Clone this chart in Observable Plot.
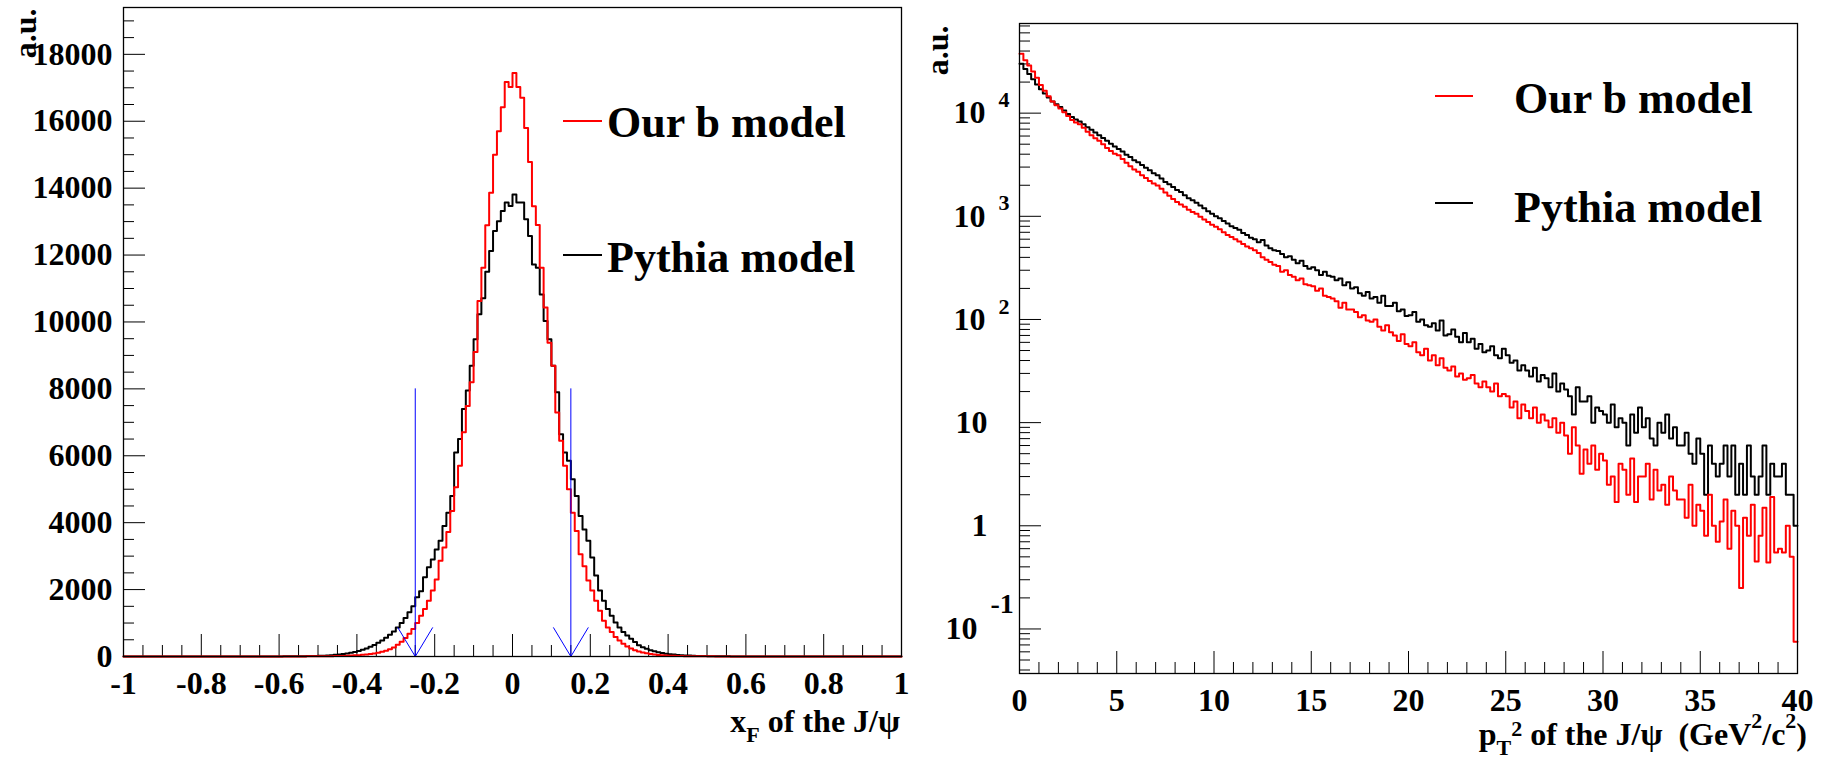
<!DOCTYPE html>
<html>
<head>
<meta charset="utf-8">
<script src="https://cdn.jsdelivr.net/npm/d3@7"></script>
<script src="https://cdn.jsdelivr.net/npm/@observablehq/plot@0.6"></script>
<style>
  html, body { margin: 0; padding: 0; background: #fff; }
  #wrap { position: relative; width: 1831px; height: 760px; overflow: hidden; background: #fff; }
  #left, #right { position: absolute; top: 0; }
  #left { left: 0; }
  #right { left: 915px; }
  svg text { white-space: pre; }
</style>
</head>
<body>
<div id="wrap"><div id="left"></div><div id="right"></div></div>
<script>
// ---------------- DATA ----------------
// Left panel: x_F histogram, bins of 0.01 from -0.60 to 0.60 (zero elsewhere in [-1, 1])
const xfRange = [-1, 1];
const xfBinStart = -0.6;
const xfBinWidth = 0.01;
const xfOurB = [
  1, 1, 2, 2, 2, 3, 3, 4, 4, 5,
  6, 7, 8, 10, 12, 15, 18, 23, 28, 34,
  40, 50, 62, 75, 90, 110, 140, 175, 220, 270,
  350, 440, 550, 680, 820, 1000, 1220, 1420, 1670, 1970,
  2300, 2860, 3260, 3720, 4350, 5060, 5700, 6700, 7490, 8200,
  9100, 10630, 11620, 12890, 13860, 15000, 15700, 16420, 17170, 17020,
  17440, 17020, 16700, 15800, 14780, 13460, 12900, 11620, 10430, 9380,
  8690, 7290, 6450, 5700, 5000, 4300, 3750, 3060, 2700, 2270,
  1970, 1670, 1370, 1070, 870, 730, 580, 480, 380, 300,
  240, 190, 150, 120, 95, 75, 60, 48, 38, 30,
  25, 20, 16, 13, 11, 9, 8, 7, 6, 5,
  4, 4, 3, 3, 3, 2, 2, 2, 1, 1
];
const xfPythia = [
  3, 4, 5, 6, 7, 9, 11, 13, 15, 17,
  20, 25, 32, 40, 50, 60, 75, 90, 110, 135,
  165, 200, 240, 290, 345, 410, 480, 560, 650, 750,
  870, 1000, 1150, 1320, 1500, 1770, 1950, 2370, 2670, 2900,
  3200, 3460, 3900, 4300, 4800, 6100, 6500, 7400, 7950, 8690,
  9480, 10230, 10710, 11500, 12120, 12720, 13010, 13320, 13570, 13470,
  13810, 13570, 13570, 13070, 12570, 11720, 11620, 10820, 10030, 9480,
  8690, 7900, 6640, 6100, 5850, 5300, 4800, 4200, 3800, 3460,
  2960, 2420, 1970, 1670, 1420, 1220, 1020, 870, 730, 630,
  530, 430, 340, 280, 230, 190, 160, 130, 105, 85,
  70, 58, 48, 40, 33, 27, 22, 18, 15, 12,
  10, 8, 7, 6, 5, 4, 3, 3, 2, 2
];
const xfTicks = [-1, -0.8, -0.6, -0.4, -0.2, 0, 0.2, 0.4, 0.6, 0.8, 1];
const xfTickLabels = ["-1", "-0.8", "-0.6", "-0.4", "-0.2", "0", "0.2", "0.4", "0.6", "0.8", "1"];
const xfYTicks = [0, 2000, 4000, 6000, 8000, 10000, 12000, 14000, 16000, 18000];
const xfYTickLabels = ["0", "2000", "4000", "6000", "8000", "10000", "12000", "14000", "16000", "18000"];
const xfCuts = [-0.25, 0.15];      // blue arrow positions
const xfCutTop = 8000;             // arrow tail height

// Right panel: pT^2 histogram, bins of 0.2 from 0 to 40
const pt2BinStart = 0;
const pt2BinWidth = 0.2;
const pt2OurB = [
  37700, 32500, 28900, 25300, 22000,
  18700, 16500, 14600, 13000, 11900,
  11100, 10200, 9400, 8600, 8100,
  7800, 7200, 6600, 6100, 5700,
  5400, 5000, 4600, 4300, 4050,
  3900, 3600, 3300, 3050, 2850,
  2700, 2500, 2350, 2200, 2080,
  1990, 1850, 1700, 1580, 1470,
  1380, 1300, 1240, 1160, 1100,
  1060, 990, 930, 880, 830,
  790, 750, 700, 660, 630,
  600, 570, 540, 510, 490,
  470, 440, 400, 380, 360,
  340, 330, 290, 300, 270,
  260, 240, 250, 220, 215,
  210, 190, 200, 170, 165,
  160, 150, 130, 145, 125,
  125, 118, 105, 110, 98,
  95, 100, 85, 78, 88,
  75, 70, 62, 72, 58,
  55, 60, 48, 45, 52,
  40, 45, 36, 42, 34,
  32, 35, 28, 30, 26,
  27, 29, 24, 22, 25,
  22, 20, 24, 18, 19,
  18, 14, 16, 11, 15,
  13, 11, 14, 10, 12,
  10.5, 9, 11, 8, 10,
  7.5, 5, 9, 6, 3.2,
  5.5, 4, 6, 3.5, 5,
  4.3, 2.5, 3, 1.7, 4,
  3.5, 2, 4.5, 1.7, 3,
  3, 4, 1.8, 3.5, 2.2,
  2.5, 1.6, 3, 2.2, 1.8,
  1.8, 1.2, 2.5, 1, 1.6,
  1.4, 0.8, 2, 1, 0.7,
  1.1, 1.8, 0.6, 1.4, 1,
  0.25, 1.2, 0.8, 1.6, 0.45,
  0.8, 1.5, 0.44, 1.9, 0.55,
  0.6, 0.55, 1, 0.5, 0.075
];
const pt2Pythia = [
  30100, 26800, 24000, 21300, 19000,
  17000, 15500, 14200, 13000, 12200,
  11500, 10600, 9800, 9200, 8700,
  8300, 7800, 7300, 6900, 6500,
  6100, 5750, 5400, 5050, 4750,
  4500, 4250, 3950, 3750, 3500,
  3350, 3150, 2950, 2800, 2620,
  2500, 2330, 2150, 2050, 1920,
  1800, 1720, 1600, 1500, 1430,
  1350, 1270, 1200, 1120, 1060,
  1000, 960, 900, 850, 800,
  770, 740, 690, 660, 620,
  600, 560, 590, 520, 490,
  470, 460, 430, 400, 410,
  380, 350, 370, 330, 310,
  320, 300, 270, 290, 265,
  260, 240, 250, 215, 230,
  200, 205, 180, 170, 185,
  160, 165, 145, 170, 135,
  135, 145, 120, 125, 108,
  110, 118, 95, 100, 88,
  85, 92, 78, 98, 70,
  72, 80, 68, 60, 74,
  60, 65, 52, 58, 48,
  50, 55, 45, 42, 52,
  45, 38, 40, 32, 36,
  32, 28, 34, 25, 29,
  27, 22, 30, 20, 24,
  21, 18, 12, 22, 16,
  16, 18, 10, 14, 13,
  12, 10, 15, 9, 11,
  10, 6, 12, 8, 14,
  9, 11, 7, 6, 10,
  8, 12, 7, 9, 6,
  6, 8, 5, 4, 7,
  5, 2, 6, 4, 3,
  4, 6, 3, 6, 2,
  4, 2, 6, 3, 2,
  3, 6, 2, 4, 3,
  3, 4, 2, 2, 1
];
const pt2Range = [0, 40];
const pt2Ticks = [0, 5, 10, 15, 20, 25, 30, 35, 40];
const pt2TickLabels = ["0", "5", "10", "15", "20", "25", "30", "35", "40"];
const pt2YTicks = [0.1, 1, 10, 100, 1000, 10000];
const pt2YBase = ["10", "1", "10", "10", "10", "10"];
const pt2YExp = ["-1", "", "", "2", "3", "4"];

const seriesNames = ["Our b model", "Pythia model"];
const seriesColors = ["#ff0000", "#000000"];

// ---------------- HELPERS ----------------
const FONT = '"Liberation Serif", "Times New Roman", serif';
const txt = {fontFamily: FONT, fontWeight: "bold", fill: "black"};

function stepsClosed(start, width, values, range) {
  const pts = [{x: range[0], y: 0}];
  values.forEach((v, i) => pts.push({x: start + i * width, y: v}));
  pts.push({x: start + values.length * width, y: 0});
  pts.push({x: range[1], y: 0});
  return pts;
}
function stepsOpen(start, width, values) {
  const pts = values.map((v, i) => ({x: start + i * width, y: v}));
  pts.push({x: start + values.length * width, y: values[values.length - 1]});
  return pts;
}
function minorTicks(lo, hi, step, majors) {
  return d3.range(lo, hi + step / 2, step).filter(v => !majors.some(m => Math.abs(m - v) < step / 10));
}

// ---------------- LEFT PANEL ----------------
const LW = 915, LH = 760, LML = 123, LMR = 14, LMT = 7, LMB = 104;
const LIW = LW - LML - LMR, LIH = LH - LMT - LMB;
const headHalfW = 0.045, headH = 870;

const xfMinorX = minorTicks(-1, 1, 0.05, xfTicks);
const xfMinorY = minorTicks(0, 19000, 500, xfYTicks);

const left = Plot.plot({
  width: LW, height: LH,
  marginLeft: LML, marginRight: LMR, marginTop: LMT, marginBottom: LMB,
  style: {fontFamily: FONT, overflow: "visible", background: "transparent"},
  x: {domain: xfRange, axis: null},
  y: {domain: [0, 19400], axis: null},
  marks: [
    Plot.ruleX(xfMinorX, {stroke: "black", strokeWidth: 1, insetTop: LIH - 11}),
    Plot.ruleX(xfTicks, {stroke: "black", strokeWidth: 1, insetTop: LIH - 22}),
    Plot.ruleY(xfMinorY, {stroke: "black", strokeWidth: 1, insetRight: LIW - 11}),
    Plot.ruleY(xfYTicks, {stroke: "black", strokeWidth: 1, insetRight: LIW - 22}),
    Plot.line(stepsClosed(xfBinStart, xfBinWidth, xfPythia, xfRange), {x: "x", y: "y", curve: "step-after", stroke: seriesColors[1], strokeWidth: 2}),
    Plot.line(stepsClosed(xfBinStart, xfBinWidth, xfOurB, xfRange), {x: "x", y: "y", curve: "step-after", stroke: seriesColors[0], strokeWidth: 2}),
    Plot.ruleX(xfCuts, {x: d => d, y1: 0, y2: xfCutTop, stroke: "#0000ff", strokeWidth: 1}),
    Plot.link(xfCuts, {x1: d => d - headHalfW, y1: headH, x2: d => d, y2: 0, stroke: "#0000ff", strokeWidth: 1}),
    Plot.link(xfCuts, {x1: d => d + headHalfW, y1: headH, x2: d => d, y2: 0, stroke: "#0000ff", strokeWidth: 1}),
    Plot.frame({stroke: "black", strokeWidth: 1.3}),
    Plot.text(xfTicks, {x: d => d, text: (d, i) => xfTickLabels[i], frameAnchor: "bottom", dy: 27, lineAnchor: "middle", fontSize: 32, ...txt}),
    Plot.text(xfYTicks, {y: d => d, text: (d, i) => xfYTickLabels[i], frameAnchor: "left", textAnchor: "end", dx: -11, lineAnchor: "middle", fontSize: 32, ...txt}),
    Plot.text(["a.u."], {text: d => d, frameAnchor: "top-left", rotate: -90, textAnchor: "end", lineAnchor: "middle", dx: -98, dy: 1, fontSize: 32, ...txt})
  ]
});
document.getElementById("left").appendChild(left);

// ---------------- RIGHT PANEL ----------------
const RW = 916, RH = 760, RML = 104, RMR = 34, RMT = 23, RMB = 87;
const RIW = RW - RML - RMR, RIH = RH - RMT - RMB;

const pt2MinorX = minorTicks(0, 40, 1, pt2Ticks);
const logMinor = [];
for (let e = -2; e <= 4; e++) for (let m = 2; m <= 9; m++) logMinor.push(m * Math.pow(10, e));
const yDomR = [0.037, 73960];
const pt2MinorY = logMinor.filter(v => v > yDomR[0] && v < yDomR[1]);

const idxExp = [3, 4, 5], idxPlain = [1, 2], idxNeg = [0];

const right = Plot.plot({
  width: RW, height: RH,
  marginLeft: RML, marginRight: RMR, marginTop: RMT, marginBottom: RMB,
  style: {fontFamily: FONT, overflow: "visible", background: "transparent"},
  x: {domain: pt2Range, axis: null},
  y: {type: "log", domain: yDomR, axis: null},
  marks: [
    Plot.ruleX(pt2MinorX, {stroke: "black", strokeWidth: 1, insetTop: RIH - 11}),
    Plot.ruleX(pt2Ticks, {stroke: "black", strokeWidth: 1, insetTop: RIH - 22}),
    Plot.ruleY(pt2MinorY, {stroke: "black", strokeWidth: 1, insetRight: RIW - 11}),
    Plot.ruleY(pt2YTicks, {stroke: "black", strokeWidth: 1, insetRight: RIW - 22}),
    Plot.line(stepsOpen(pt2BinStart, pt2BinWidth, pt2Pythia), {x: "x", y: "y", curve: "step-after", stroke: seriesColors[1], strokeWidth: 2}),
    Plot.line(stepsOpen(pt2BinStart, pt2BinWidth, pt2OurB), {x: "x", y: "y", curve: "step-after", stroke: seriesColors[0], strokeWidth: 2}),
    Plot.frame({stroke: "black", strokeWidth: 1.3}),
    Plot.text(pt2Ticks, {x: d => d, text: (d, i) => pt2TickLabels[i], frameAnchor: "bottom", dy: 27, lineAnchor: "middle", fontSize: 32, ...txt}),
    Plot.text(idxExp, {y: i => pt2YTicks[i], text: i => pt2YBase[i], frameAnchor: "left", textAnchor: "end", dx: -34, lineAnchor: "middle", fontSize: 32, ...txt}),
    Plot.text(idxExp, {y: i => pt2YTicks[i], text: i => pt2YExp[i], frameAnchor: "left", textAnchor: "start", dx: -21, dy: -13, lineAnchor: "middle", fontSize: 22, ...txt}),
    Plot.text(idxPlain, {y: i => pt2YTicks[i], text: i => pt2YBase[i], frameAnchor: "left", textAnchor: "end", dx: -32, lineAnchor: "middle", fontSize: 32, ...txt}),
    Plot.text(idxNeg, {y: i => pt2YTicks[i], text: i => pt2YBase[i], frameAnchor: "left", textAnchor: "end", dx: -42, lineAnchor: "middle", fontSize: 32, ...txt}),
    Plot.text(idxNeg, {y: i => pt2YTicks[i], text: i => pt2YExp[i], frameAnchor: "left", textAnchor: "start", dx: -29, dy: -25, lineAnchor: "middle", fontSize: 28, ...txt}),
    Plot.text(["a.u."], {text: d => d, frameAnchor: "top-left", rotate: -90, textAnchor: "end", lineAnchor: "middle", dx: -82, dy: 2, fontSize: 32, ...txt})
  ]
});
document.getElementById("right").appendChild(right);

// ---------------- TITLES & LEGENDS ----------------
function addTitle(svg, x, y, parts) {
  const t = d3.select(svg).append("text")
    .attr("x", x).attr("y", y)
    .attr("text-anchor", "end")
    .attr("font-family", FONT).attr("font-weight", "bold")
    .attr("font-size", 32).attr("fill", "black")
    .attr("xml:space", "preserve");
  parts.forEach(p => {
    const s = t.append("tspan").text(p.t);
    if (p.dy) s.attr("dy", p.dy);
    if (p.fs) s.attr("font-size", p.fs);
  });
}
addTitle(left, 900, 732, [
  {t: "x"}, {t: "F", dy: 10, fs: 22}, {t: " of the J/\u03c8", dy: -10}
]);
addTitle(right, 892, 745, [
  {t: "p"}, {t: "T", dy: 10, fs: 22}, {t: "2", dy: -19, fs: 22},
  {t: " of the J/\u03c8  (GeV", dy: 9}, {t: "2", dy: -17, fs: 22},
  {t: "/c", dy: 17}, {t: "2", dy: -17, fs: 22}, {t: ")", dy: 17}
]);

function addLegend(svg, entries) {
  const g = d3.select(svg).append("g").attr("text-anchor", "start");
  entries.forEach(e => {
    g.append("line").attr("x1", e.x1).attr("x2", e.x2).attr("y1", e.ly).attr("y2", e.ly)
      .attr("stroke", e.color).attr("stroke-width", 2);
    g.append("text").attr("x", e.tx).attr("y", e.ty)
      .attr("text-anchor", "start")
      .attr("font-family", FONT).attr("font-weight", "bold").attr("font-size", 44)
      .attr("fill", "black").text(e.name);
  });
}
addLegend(left, [
  {name: seriesNames[0], color: seriesColors[0], x1: 563, x2: 602, ly: 121, tx: 607, ty: 137},
  {name: seriesNames[1], color: seriesColors[1], x1: 563, x2: 602, ly: 255, tx: 607, ty: 272}
]);
addLegend(right, [
  {name: seriesNames[0], color: seriesColors[0], x1: 520, x2: 558, ly: 96, tx: 599, ty: 113},
  {name: seriesNames[1], color: seriesColors[1], x1: 520, x2: 558, ly: 203, tx: 599, ty: 222}
]);
</script>
</body>
</html>
